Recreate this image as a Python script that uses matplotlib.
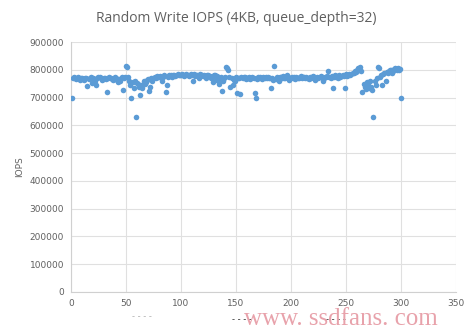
import numpy as np
import matplotlib.pyplot as plt

# IOPS per sample (thousands), samples 1..300
iops_k = [
    700, 772, 775, 770, 768, 774, 771, 765, 770, 772, 768, 762, 770, 771, 742, 766, 771, 774, 752, 770,
    768, 760, 745, 771, 773, 776, 770, 764, 768, 772, 770, 766, 720, 771, 775, 770, 768, 763, 772, 774,
    770, 765, 758, 768, 760, 773, 728, 770, 775, 815, 812, 775, 760, 745, 700, 755, 735, 760, 630, 752,
    748, 740, 710, 745, 735, 760, 748, 755, 765, 768, 725, 740, 772, 760, 770, 775, 772, 778, 773, 776,
    778, 774, 760, 776, 780, 722, 745, 776, 782, 779, 781, 776, 783, 780, 778, 782, 785, 780, 783, 781,
    784, 780, 778, 782, 785, 781, 779, 783, 786, 782, 760, 784, 778, 783, 781, 770, 785, 782, 780, 778,
    782, 778, 770, 783, 780, 778, 770, 776, 755, 780, 782, 765, 778, 762, 750, 775, 725, 760, 770, 775,
    810, 805, 800, 775, 737, 770, 745, 765, 760, 775, 716, 770, 772, 712, 775, 770, 775, 773, 768, 772,
    770, 774, 768, 771, 775, 770, 715, 700, 768, 773, 770, 775, 772, 768, 774, 771, 776, 770, 773, 769,
    772, 735, 770, 765, 815, 768, 774, 770, 760, 773, 775, 770, 778, 772, 770, 780, 776, 765, 770, 772,
    775, 770, 773, 768, 776, 772, 770, 774, 777, 771, 775, 773, 770, 776, 772, 768, 775, 770, 773, 777,
    774, 765, 772, 776, 770, 775, 778, 773, 760, 770, 776, 773, 778, 795, 775, 770, 777, 735, 776, 780,
    775, 778, 772, 780, 776, 779, 782, 777, 735, 784, 778, 782, 786, 780, 785, 790, 788, 795, 792, 800,
    805, 798, 810, 795, 720, 750, 740, 730, 755, 745, 735, 760, 740, 728, 630, 760, 745, 770, 812, 805,
    775, 780, 745, 785, 790, 760, 792, 788, 795, 798, 800, 790, 796, 802, 805, 798, 806, 800, 803, 700,
]
iops = np.array(iops_k) * 1000
samples = np.arange(1, len(iops) + 1)

fig = plt.figure(figsize=(4.73, 3.29), dpi=100)
ax = fig.add_axes([0.150, 0.1125, 0.814, 0.7595])

ax.scatter(samples, iops, s=16, color='#5b9bd5', zorder=3, linewidths=0)

ax.set_xlim(0, 350)
ax.set_ylim(0, 900000)
ax.set_xticks(range(0, 351, 50))
ax.set_yticks(range(0, 900001, 100000))
ax.grid(True, color='#e0e0e0', linewidth=0.8)
ax.set_axisbelow(True)
for side in ['top', 'right']:
    ax.spines[side].set_visible(False)
for side in ['left', 'bottom']:
    ax.spines[side].set_color('#d0d0d0')
ax.tick_params(length=0, labelsize=6.5, colors='#606060', pad=5)

fig.text(0.5, 0.945, 'Random Write IOPS (4KB, queue_depth=32)', fontsize=10,
         color='#606060', family='Open Sans', ha='center', va='center')
ax.set_ylabel('IOPS', fontsize=6.5, color='#606060', labelpad=4)

fig.text(0.28, 0.03, '- - - -', fontsize=6, color='#b0b0b0')
fig.text(0.49, 0.022, '- - - -', fontsize=6, color='#303030')
fig.text(0.69, 0.022, '- - - -', fontsize=6, color='#303030')
fig.text(0.515, 0.012, 'www. ssdfans. com', fontsize=18, color='#e8a2ab',
         family='Liberation Serif')

fig.savefig('out.png', dpi=100)
